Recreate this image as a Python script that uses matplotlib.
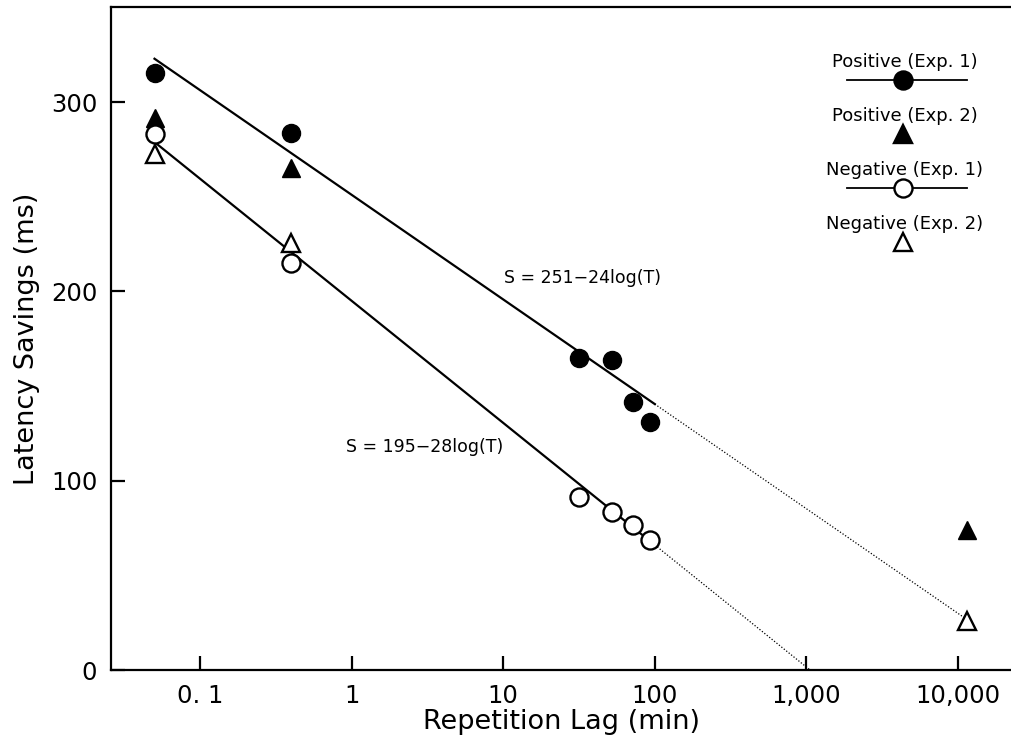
import matplotlib
matplotlib.use("Agg")
from matplotlib import pyplot as plt
from matplotlib.ticker import FixedLocator, FixedFormatter, NullLocator
import numpy as np

# repetition lag (min) and latency savings (ms)
lag_exp1 = [0.05, 0.4, 31.5, 52, 72, 93]
lag_exp2 = [0.05, 0.4, 11500]

pos_exp1 = [315.6, 283.6, 164.8, 163.6, 141.6, 131.0]
pos_exp2 = [291.6, 265.0, 74.1]
neg_exp1 = [283.4, 214.8, 91.3, 83.4, 76.5, 68.6]
neg_exp2 = [272.8, 225.6, 26.1]

# fitted lines: S = a - b*log(T)
fit_pos = (251, 24)
fit_neg = (195, 28)
fit_start = 0.05
fit_end = 100
pos_dot_end = 11500

xticks = [0.1, 1, 10, 100, 1000, 10000]
xticklabels = ["0. 1", "1", "10", "100", "1,000", "10,000"]
yticks = [0, 100, 200, 300]

plt.rcParams['font.family'] = ['DejaVu Sans']

fig = plt.figure(figsize=(10.11, 7.42), dpi=100)
ax = fig.add_axes([0.11, 0.097, 0.89, 0.893])

def fit(a_b, t):
    a, b = a_b
    return a - b * np.log(np.asarray(t, dtype=float))

# solid fits
t = np.array([fit_start, fit_end])
ax.plot(t, fit(fit_pos, t), color='black', lw=1.6, zorder=2)
ax.plot(t, fit(fit_neg, t), color='black', lw=1.6, zorder=2)

# dotted extrapolations
t = np.array([fit_end, pos_dot_end])
ax.plot(t, fit(fit_pos, t), color='black', lw=0.9, ls=(0, (1, 1.5)), zorder=2)
neg_zero = np.exp(fit_neg[0] / fit_neg[1])
t = np.array([fit_end, neg_zero])
ax.plot(t, fit(fit_neg, t), color='black', lw=0.9, ls=(0, (1, 1.5)), zorder=2)

ms = 13
ax.plot(lag_exp1, pos_exp1, 'o', ms=ms, color='black', zorder=3)
ax.plot(lag_exp2, pos_exp2, '^', ms=ms, color='black', zorder=3)
ax.plot(lag_exp1, neg_exp1, 'o', ms=ms, mfc='white', mec='black', mew=1.7, zorder=3)
ax.plot(lag_exp2, neg_exp2, '^', ms=ms, mfc='white', mec='black', mew=1.7, zorder=3)

ax.set_xscale('log')
ax.set_xlim(0.0259, 22400)
ax.set_ylim(0, 350)

# equation labels
ax.text(33.5, 207, "S = 251\u221224log(T)", fontsize=12.5,
        ha='center', va='center')
ax.text(3.03, 118, "S = 195\u221228log(T)", fontsize=12.5,
        ha='center', va='center')

# legend drawn by hand
entries = [("Positive (Exp. 1)", 'o', 'black', True),
           ("Positive (Exp. 2)", '^', 'black', False),
           ("Negative (Exp. 1)", 'o', 'white', True),
           ("Negative (Exp. 2)", '^', 'white', False)]
tr = ax.transAxes
for i, (lab, mk, fc, line) in enumerate(entries):
    ytxt = 0.917 - i * 0.0815
    ymk = ytxt - 0.027
    ax.text(0.882, ytxt, lab, fontsize=13, ha='center',
            va='center', transform=tr)
    if line:
        ax.plot([0.818, 0.951], [ymk, ymk], color='black', lw=1.3, transform=tr,
                clip_on=False)
    ax.plot([0.88], [ymk], mk, ms=ms, mfc=fc, mec='black', mew=1.7, transform=tr,
            clip_on=False)

ax.xaxis.set_major_locator(FixedLocator(xticks))
ax.xaxis.set_major_formatter(FixedFormatter(xticklabels))
ax.xaxis.set_minor_locator(NullLocator())
ax.set_yticks(yticks)
ax.tick_params(direction='in', length=10, width=1.6, labelsize=17.5, pad=10)
for side in ['left', 'bottom', 'top']:
    ax.spines[side].set_linewidth(1.6)
ax.spines['right'].set_visible(False)

ax.set_xlabel("Repetition Lag (min)", fontsize=19.5, labelpad=1)
ax.set_ylabel("Latency Savings (ms)", fontsize=19.5, labelpad=8)

fig.savefig("out.png", dpi=100)
